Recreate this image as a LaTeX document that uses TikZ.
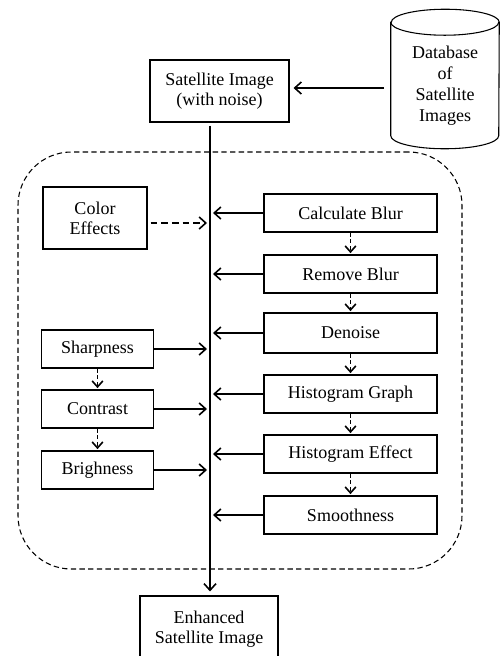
\documentclass[tikz,border=0pt]{standalone}
\usepackage{fontspec}
\setmainfont{Liberation Serif}
\usetikzlibrary{arrows.meta}
\begin{document}
\begin{tikzpicture}[x=0.75pt,y=-0.75pt,
  txt/.style={font=\fontsize{13.5}{15}\selectfont, align=center},
  box/.style={txt, draw, line width=0.8pt, inner sep=0pt},
  rbox/.style={box, minimum width=129.75pt, minimum height=28.5pt},
  lbox/.style={box, minimum width=84pt, minimum height=28.5pt},
  arr/.style={line width=1.3pt, -{Straight Barb[length=5pt,width=9pt,line width=1.2pt]}},
  darr/.style={line width=1.4pt, dash pattern=on 3pt off 2pt, -{Straight Barb[length=4.5pt,width=8pt,line width=1.2pt]}},
  carr/.style={line width=1.3pt, dash pattern=on 5pt off 3pt, -{Straight Barb[length=5pt,width=9pt,line width=1.2pt]}},
  group/.style={draw, line width=0.8pt, dash pattern=on 4pt off 2.5pt, rounded corners=40pt, inner sep=0pt}
]
\useasboundingbox (0,0) rectangle (501,656);
\clip (0,0) rectangle (501,656);

% dashed group
\node[group, minimum width=333pt, minimum height=312.75pt] (grp) at (240,360.5) {};

% top
\node[box, minimum width=104.25pt, minimum height=46.5pt] (sat) at (219.5,91) {Satellite Image\\(with noise)};
\node[minimum width=81pt, minimum height=104.25pt, inner sep=0pt] (db) at (445,79) {};
\draw[line width=0.8pt] ([yshift=-9.75pt]db.north west) -- ([yshift=9.75pt]db.south west)
  arc[start angle=180,end angle=360,x radius=40.5pt,y radius=9.75pt]
  -- ([yshift=-9.75pt]db.north east)
  arc[start angle=0,end angle=180,x radius=40.5pt,y radius=9.75pt] -- cycle;
\draw[line width=0.8pt] ([yshift=-9.75pt]db.north west) arc[start angle=180,end angle=360,x radius=40.5pt,y radius=9.75pt];
\node[font=\fontsize{13.5}{15.75}\selectfont, align=center] (dbtxt) at (445,86) {Database\\of\\Satellite\\Images};

% bottom
\node[box, minimum width=103.5pt, minimum height=49.5pt] (enh) at (209,629) {Enhanced\\Satellite Image};

% bus
\coordinate (bus) at (210,300);
\draw[arr, shorten <=2.25pt, shorten >=3pt] (bus |- sat.south) -- (bus |- enh.north);
\draw[arr, shorten <=5pt, shorten >=3pt] (db.west |- 0,88) -- (sat.east |- 0,88);

% right column
\node[rbox] (cb) at (350.5,213) {Calculate Blur};
\node[rbox] (rb) at (350.5,274) {Remove Blur};
\node[rbox, minimum height=30pt] (dn) at (350.5,333) {Denoise};
\node[rbox] (hg) at (350.5,394) {Histogram Graph};
\node[rbox] (he) at (350.5,454) {Histogram Effect};
\node[rbox] (sm) at (350.5,515) {Smoothness};

\foreach \n in {cb,rb,dn,hg,he,sm}
  \draw[arr, shorten >=2.25pt] (\n.west) -- (bus |- \n.west);

\draw[darr, shorten >=1pt] (cb) -- (rb);
\draw[darr, shorten >=1pt] (rb) -- (dn);
\draw[darr, shorten >=1pt] (dn) -- (hg);
\draw[darr, shorten >=1pt] (hg) -- (he);
\draw[darr, shorten >=1pt] (he) -- (sm);

% left column
\node[box, minimum width=78pt, minimum height=46.5pt] (ce) at (95,218) {Color\\Effects};
\node[lbox] (sh) at (97.5,349) {Sharpness};
\node[lbox] (co) at (97.5,409) {Contrast};
\node[lbox] (br) at (97.5,470) {Brighness};

\draw[carr, shorten <=2.25pt, shorten >=2.25pt] ([yshift=-3.75pt]ce.east) -- (bus |- 0,223);
\foreach \n in {sh,co,br}
  \draw[arr, shorten >=2.25pt] (\n.east) -- (bus |- \n.east);
\draw[darr, shorten >=1pt] (sh) -- (co);
\draw[darr, shorten >=1pt] (co) -- (br);
\end{tikzpicture}
\end{document}
